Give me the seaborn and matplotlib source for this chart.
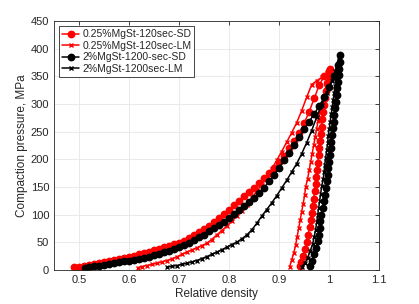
import matplotlib
matplotlib.use("Agg")
import matplotlib.pyplot as plt
import seaborn as sns

# 0.25%MgSt-120sec-SD (loading, then unloading)
sd025_x = [0.49, 0.50, 0.51, 0.52, 0.53, 0.54, 0.55, 0.56, 0.57, 0.58, 0.59, 0.60,
           0.61, 0.62, 0.63, 0.64, 0.65, 0.66, 0.67, 0.68, 0.69, 0.70, 0.71, 0.72,
           0.73, 0.74, 0.75, 0.76, 0.77, 0.78, 0.79, 0.80, 0.81, 0.82, 0.83, 0.84,
           0.85, 0.86, 0.87, 0.88, 0.89, 0.90, 0.91, 0.92, 0.93, 0.94, 0.95, 0.96,
           0.97, 0.98, 0.99, 1.00, 1.002,
           0.999, 0.996, 0.994, 0.992, 0.990, 0.988, 0.986, 0.985, 0.983, 0.982,
           0.980, 0.979, 0.977, 0.976, 0.974, 0.973, 0.971, 0.969, 0.967, 0.965,
           0.963, 0.961, 0.958, 0.955, 0.952, 0.948, 0.944, 0.942]
sd025_p = [5, 6, 7.5, 9, 10.5, 12, 13.5, 15.5, 17.5, 19.5, 21.5, 24,
           26, 28, 30.5, 33, 35.5, 38, 41, 44, 46.5, 49, 53, 57.5,
           62.5, 68, 74, 80, 86.5, 93, 101, 109, 117, 125, 133, 141,
           149, 157, 166, 175, 185, 195, 206, 220, 233, 247, 265, 286,
           310, 334, 350, 360, 363,
           350, 337, 324, 311, 298, 285, 272, 259, 246, 233,
           220, 207, 194, 181, 168, 155, 142, 129, 116, 103,
           90, 77, 64, 51, 38, 25, 14, 7]

# 0.25%MgSt-120sec-LM
lm025_x = [0.617, 0.625, 0.635, 0.645, 0.655, 0.665, 0.675, 0.685, 0.695, 0.705,
           0.715, 0.725, 0.735, 0.745, 0.755, 0.765, 0.775, 0.785, 0.795, 0.805,
           0.815, 0.825, 0.835, 0.845, 0.855, 0.865, 0.875, 0.885, 0.895, 0.905,
           0.915, 0.925, 0.935, 0.945, 0.955, 0.965, 0.975, 0.985, 0.995, 1.000,
           0.997, 0.993, 0.990, 0.986, 0.982, 0.978, 0.975, 0.972, 0.969, 0.966,
           0.963, 0.960, 0.957, 0.953, 0.951, 0.948, 0.945, 0.942, 0.939, 0.936,
           0.933, 0.929, 0.925, 0.921]
lm025_p = [4, 6, 8, 10, 12, 14.5, 17, 20, 23.5, 28,
           32, 36, 40, 44, 48, 55, 63, 71, 79, 88,
           97, 107, 118, 130, 142, 154, 167, 182, 198, 214,
           231, 248, 266, 288, 312, 335, 342, 348, 356, 360,
           345, 330, 315, 300, 285, 270, 255, 240, 225, 210,
           195, 180, 165, 150, 135, 120, 105, 90, 75, 60,
           45, 30, 18, 6]

# 2%MgSt-1200-sec-SD
sd2_x = [0.512, 0.52, 0.53, 0.54, 0.55, 0.56, 0.57, 0.58, 0.59, 0.60, 0.61, 0.62,
         0.63, 0.64, 0.65, 0.66, 0.67, 0.68, 0.69, 0.70, 0.71, 0.72, 0.73, 0.74,
         0.75, 0.76, 0.77, 0.78, 0.79, 0.80, 0.81, 0.82, 0.83, 0.84, 0.85, 0.86,
         0.87, 0.88, 0.89, 0.90, 0.91, 0.92, 0.93, 0.94, 0.95, 0.96, 0.97, 0.98,
         0.99, 1.00, 1.01, 1.017, 1.022,
         1.021, 1.020, 1.019, 1.018, 1.016, 1.015, 1.013, 1.012, 1.010, 1.009,
         1.007, 1.006, 1.004, 1.003, 1.001, 1.000, 0.998, 0.997, 0.995, 0.993,
         0.991, 0.989, 0.987, 0.984, 0.982, 0.981, 0.979, 0.977, 0.974, 0.970,
         0.965, 0.961]
sd2_p = [4, 5, 6.5, 8, 9.5, 11, 12.5, 14, 15.5, 17, 18.5, 20,
         22, 24, 26.5, 29, 32, 35, 38, 41, 45, 49.5, 54, 59,
         64, 69.5, 75, 81, 87.5, 94, 101, 108, 115, 122, 130, 139,
         149, 160, 172, 185, 198, 212, 226, 240, 254, 268, 282, 296,
         312, 330, 350, 370, 388,
         376, 364, 352, 340, 328, 316, 304, 292, 280, 268,
         256, 244, 232, 220, 208, 196, 184, 172, 160, 148,
         136, 124, 112, 100, 88, 76, 64, 52, 40, 28,
         16, 8]

# 2%MgSt-1200sec-LM
lm2_x = [0.675, 0.685, 0.695, 0.705, 0.715, 0.725, 0.735, 0.745, 0.755, 0.765,
         0.775, 0.785, 0.795, 0.805, 0.815, 0.825, 0.835, 0.845, 0.855, 0.865,
         0.875, 0.885, 0.895, 0.905, 0.915, 0.925, 0.935, 0.945, 0.955, 0.965,
         0.975, 0.985, 0.995, 1.005, 1.012, 1.017, 1.020,
         1.018, 1.016, 1.014, 1.012, 1.010, 1.008, 1.006, 1.004, 1.002, 1.000,
         0.998, 0.997, 0.995, 0.993, 0.991, 0.990, 0.988, 0.985, 0.983, 0.981,
         0.979, 0.977, 0.975, 0.973, 0.970, 0.967, 0.962, 0.957, 0.951, 0.945]
lm2_p = [5, 6.5, 8, 10, 12, 14.5, 17, 20.5, 24, 28,
         32, 36.5, 41, 46, 50, 56, 63, 72, 84, 97,
         109, 121, 134, 148, 162, 177, 192, 210, 230, 252,
         276, 298, 320, 342, 360, 373, 385,
         372, 359, 346, 333, 320, 307, 294, 281, 268, 255,
         242, 229, 216, 203, 190, 177, 164, 151, 138, 125,
         112, 99, 86, 73, 60, 47, 34, 22, 12, 6]

labels = ["0.25%MgSt-120sec-SD", "0.25%MgSt-120sec-LM",
          "2%MgSt-1200-sec-SD", "2%MgSt-1200sec-LM"]

sns.set_style("white")
plt.rcParams["font.family"] = ["Liberation Sans", "DejaVu Sans"]

fig = plt.figure(figsize=(4.19, 3.04), dpi=100)
ax = fig.add_axes([0.129, 0.112, 0.776, 0.819])

series = [
    (sd025_x, sd025_p, "red", "o", 4.6),
    (lm025_x, lm025_p, "red", "x", 3.2),
    (sd2_x, sd2_p, "black", "o", 4.6),
    (lm2_x, lm2_p, "black", "x", 3.2),
]
for (x, p, c, m, ms), lab in zip(series, labels):
    sns.lineplot(x=x, y=p, ax=ax, sort=False, estimator=None, color=c,
                 marker=m, markersize=ms, markeredgewidth=1.0,
                 markeredgecolor=c, linewidth=1.1, label=lab)

ax.set_xlim(0.45, 1.1)
ax.set_ylim(0, 450)
ax.set_xticks([0.5, 0.6, 0.7, 0.8, 0.9, 1.0, 1.1])
ax.set_xticklabels(["0.5", "0.6", "0.7", "0.8", "0.9", "1", "1.1"])
ax.set_yticks(range(0, 451, 50))
ax.grid(True, color="#e6e6e6", linewidth=0.6)
ax.tick_params(direction="in", length=3, labelsize=8, colors="#262626",
               top=True, right=True, width=0.6)
for s in ax.spines.values():
    s.set_color("#262626")
    s.set_linewidth(0.6)
ax.set_xlabel("Relative density", fontsize=8.5, color="#262626", labelpad=2)
ax.set_ylabel("Compaction pressure, MPa", fontsize=8.5, color="#262626", labelpad=2)

leg = ax.legend(loc="upper left", fontsize=7.5, frameon=True, fancybox=False,
                edgecolor="#262626", framealpha=1, borderpad=0.3,
                labelspacing=0.15, handlelength=1.6, handletextpad=0.3,
                borderaxespad=0.5)
leg.get_frame().set_linewidth(0.6)

fig.savefig("out.png", dpi=100)
